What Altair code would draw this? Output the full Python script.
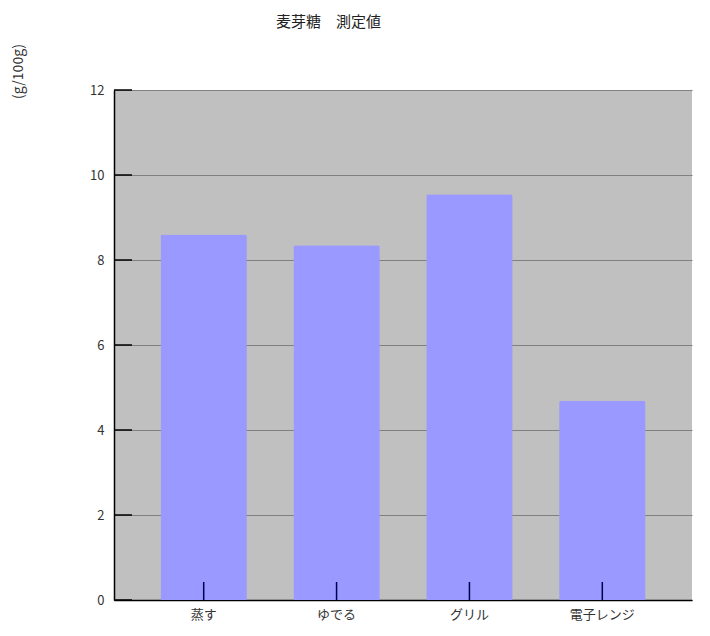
import altair as alt
import pandas as pd

categories = ["蒸す", "ゆでる", "グリル", "電子レンジ"]
values = [8.6, 8.35, 9.55, 4.69]
y_ticks = [0, 2, 4, 6, 8, 10, 12]

df = pd.DataFrame({"method": categories, "value": values})
df_yt = pd.DataFrame({"tick": y_ticks})

FONT = "Noto Sans CJK JP"

x_enc = alt.X(
    "method:N",
    sort=categories,
    scale=alt.Scale(paddingInner=0.35, paddingOuter=0.35),
    axis=alt.Axis(
        title=None, labelAngle=0, labelFont=FONT, labelFontSize=13,
        labelColor="#333333", labelPadding=8,
        domainColor="#000000", domainWidth=1.5,
        ticks=False, grid=False,
    ),
)

y_scale = alt.Scale(domain=[0, 12], nice=False)

bars = alt.Chart(df).mark_bar(
    color="#9999FF", cornerRadiusTopLeft=2, cornerRadiusTopRight=2
).encode(
    x=x_enc,
    y=alt.Y(
        "value:Q",
        scale=y_scale,
        axis=alt.Axis(
            values=y_ticks, title="(g/100g)", titleFont=FONT, titleFontSize=14,
            titleFontWeight="normal", titleColor="#333333",
            titleAngle=-90, titleX=-96, titleY=-19, titleAlign="center",
            titleBaseline="middle",
            labelFont=FONT, labelFontSize=13, labelColor="#333333",
            labelPadding=10,
            domainColor="#000000", domainWidth=1.5,
            ticks=False,
            grid=True, gridColor="#808080", gridWidth=1,
        ),
    ),
)

x_ticks = alt.Chart(df).mark_rule(color="#000050", strokeWidth=1.5).encode(
    x=alt.X("method:N", sort=categories),
    y=alt.value(510),
    y2=alt.value(492),
)

y_tick_marks = alt.Chart(df_yt).mark_rule(color="#000000", strokeWidth=1.5).encode(
    y=alt.Y("tick:Q", scale=y_scale),
    x=alt.value(0),
    x2=alt.value(18),
)

chart = alt.layer(bars, x_ticks, y_tick_marks).properties(
    width=578,
    height=510,
    background="#FFFFFF",
    title=alt.TitleParams(
        text="麦芽糖　測定値", font=FONT, fontSize=15, fontWeight="normal",
        color="#222222", anchor="start", frame="group", dx=162, offset=13,
    ),
    autosize=alt.AutoSizeParams(type="none"),
    padding={"left": 106, "top": 82, "right": 10, "bottom": 30},
).configure_view(
    fill="#C0C0C0", stroke=None
)

chart.save("out.html", embed_options={"renderer": "svg", "actions": False})
